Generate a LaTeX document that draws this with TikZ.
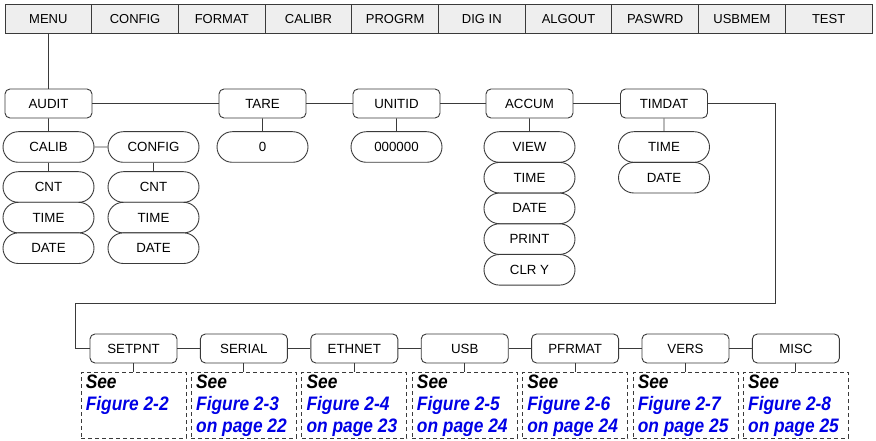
\documentclass[tikz,border=0pt]{standalone}
\usepackage{fontspec}
\setmainfont{Liberation Sans}
\newfontfamily\seefont[FakeStretch=0.89]{Liberation Sans}
\usetikzlibrary{positioning,shapes.misc}
\definecolor{ink}{HTML}{3A3A3A}
\definecolor{bar}{HTML}{EEEEEE}
\definecolor{link}{HTML}{0000E6}

\begin{document}
\begin{tikzpicture}[x=1pt, y=-1pt,
          wire/.style={draw=ink, line width=0.9pt},
          cell/.style={draw=ink, line width=1pt, fill=bar, minimum width=86.7pt, minimum height=28.5pt, inner sep=0pt, font=\fontsize{13}{15}\selectfont},
          item/.style={draw=ink, line width=0.9pt, rounded corners=5pt, fill=white, minimum width=87pt, minimum height=29pt, inner sep=0pt, font=\fontsize{13.3}{15}\selectfont},
          pill/.style={draw=ink, line width=0.9pt, rounded rectangle, fill=white, minimum width=91pt, minimum height=30.6pt, inner sep=0pt, font=\fontsize{13.3}{15}\selectfont},
          note/.style={draw=ink, line width=0.9pt, dash pattern=on 4pt off 3pt, minimum width=105pt, minimum height=65.5pt, inner sep=0pt},
          seetext/.style={anchor=north west, align=left, inner sep=0pt, font=\seefont\bfseries\itshape\fontsize{19.5}{22}\selectfont}]
        \useasboundingbox (0,0) rectangle (876,441);
        % menu bar
        \foreach \lbl [count=\i from 0] in {MENU,CONFIG,FORMAT,CALIBR,PROGRM,DIG IN,ALGOUT,PASWRD,USBMEM,TEST}
          \node[cell] (m\i) at (48.35+86.7*\i,18.8) {\lbl};
        % audit row
        \foreach \n/\x/\lbl in {audit/48.5/AUDIT, tare/262.5/TARE, unitid/396.5/UNITID, accum/529.5/ACCUM, timdat/664/TIMDAT}
          \node[item] (\n) at (\x,103.5) {\lbl};
        \draw[wire] (m0.south) -- (m0.south |- audit.north);
        \foreach \a/\b in {audit/tare, tare/unitid, unitid/accum, accum/timdat}
          \draw[wire] (\a) -- (\b);
        % sub menus
        \node[pill] (calib) at (48.5,147) {CALIB};
        \node[pill] (config) at (153.5,147) {CONFIG};
        \node[pill] (zero) at (262.5,147) {0};
        \node[pill] (idval) at (396.5,147) {000000};
        \node[pill] (view) at (529.5,147) {VIEW};
        \node[pill] (tdtime) at (664,147) {TIME};
        \node[pill] (tddate) at (664,177.7) {DATE};
        \foreach \c/\x in {ca/48.5, co/153.5}{
          \node[pill] (\c cnt) at (\x,187) {CNT};
          \node[pill] (\c time) at (\x,217.6) {TIME};
          \node[pill] (\c date) at (\x,248.2) {DATE};}
        \foreach \n/\y/\lbl in {actime/177.7/TIME, acdate/208.4/DATE, acprint/239.1/PRINT, acclr/269.8/CLR Y}
          \node[pill] (\n) at (529.5,\y) {\lbl};
        \foreach \a/\b in {audit/calib, calib/config, calib/cacnt, config/cocnt, tare/zero, unitid/idval, accum/view, timdat/tdtime}
          \draw[wire] (\a) -- (\b);
        % second row
        \foreach \n/\lbl [count=\i from 0] in {setpnt/SETPNT, serial/SERIAL, ethnet/ETHNET, usb/USB, pfrmat/PFRMAT, vers/VERS, misc/MISC}
          \node[item] (\n) at (133.5+110.4*\i,348.5) {\lbl};
        \foreach \a/\b in {setpnt/serial, serial/ethnet, ethnet/usb, usb/pfrmat, pfrmat/vers, vers/misc}
          \draw[wire] (\a) -- (\b);
        \coordinate (wrapR) at (775,303);
        \coordinate (wrapL) at (75,303);
        \draw[wire] (timdat.east) -| (wrapR) -- (wrapL) |- (setpnt.west);
        % see boxes
        \foreach \n/\fig/\pg [count=\i from 0] in {setpnt/2-2/, serial/2-3/on page 22, ethnet/2-4/on page 23, usb/2-5/on page 24, pfrmat/2-6/on page 24, vers/2-7/on page 25, misc/2-8/on page 25}{
          \node[note] (note\i) at (133.5+110.4*\i,405.3) {};
          \node[seetext] (see\i) at ([xshift=5pt, yshift=-2.5pt]note\i.north west) {See\\\textcolor{link}{Figure \fig}\\\textcolor{link}{\pg}};
          \draw[wire] (\n) -- (note\i);}
      \end{tikzpicture}
\end{document}
